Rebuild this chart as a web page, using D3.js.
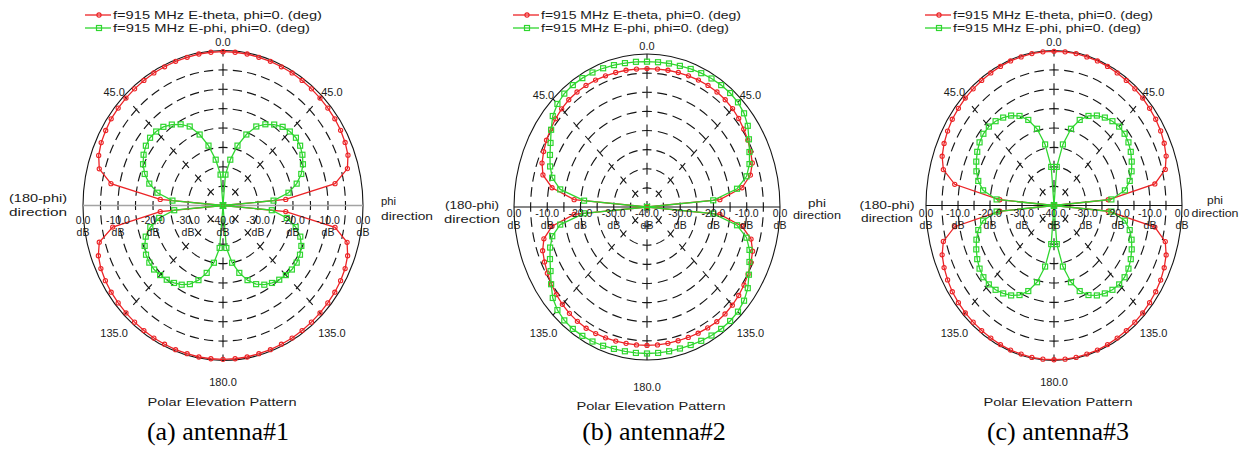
<!DOCTYPE html>
<html>
<head>
<meta charset="utf-8">
<script src="https://cdn.jsdelivr.net/npm/d3@7"></script>
<style>
  body { margin: 0; background: #fff; }
  svg { display: block; }
  .lbl { font-family: "Liberation Sans", Arial, sans-serif; font-size: 11px; fill: #1a1a1a; }
  .tick { font-family: "Liberation Sans", Arial, sans-serif; font-size: 10.5px; fill: #1a1a1a; }
  .cap { font-family: "Liberation Serif", "Times New Roman", serif; font-size: 26px; fill: #000; }
</style>
</head>
<body>
<svg width="1250" height="450"></svg>
<script>
// sampling angles (deg, clockwise from the top: right half = phi direction)
const angles = d3.range(0, 360, 5);

const ringLevels = [-35, -30, -25, -20, -15, -10, -5];
const tickLevels = [0, -10, -20, -30, -40];
const tickLabels = ["0.0", "-10.0", "-20.0", "-30.0", "-40.0"];
const spokeAngles = [45, 135, 225, 315];
const angleLevels = [0, 45, 135, 180, 225, 315];
const angleLabels = ["0.0", "45.0", "135.0", "180.0", "135.0", "45.0"];
const legendNames = ["f=915 MHz E-theta, phi=0. (deg)", "f=915 MHz E-phi, phi=0. (deg)"];
const leftNames = ["(180-phi)", "direction"];
const rightNames = ["phi", "direction"];
const captions = ["(a) antenna#1", "(b) antenna#2", "(c) antenna#3"];

// gain in dB, one value per angle
const theta1 = [-0.3,-0.3,-0.3,-0.4,-0.4,-0.5,-0.5,-0.6,-0.7,-0.8,-0.9,-1.0,-1.2,-1.5,-2.0,-3.2,-7.5,-22,-45,
  -22,-7.5,-3.3,-2.1,-1.5,-1.2,-1.0,-0.9,-0.8,-0.7,-0.6,-0.5,-0.5,-0.4,-0.4,-0.3,-0.3,
  -0.3,-0.3,-0.3,-0.4,-0.4,-0.5,-0.5,-0.6,-0.7,-0.8,-0.9,-1.0,-1.2,-1.5,-2.1,-3.4,-8,-22,-45,
  -22,-7.5,-3.4,-2.2,-1.6,-1.3,-1.0,-0.9,-0.8,-0.7,-0.6,-0.5,-0.5,-0.4,-0.4,-0.3,-0.3];
const phi1 = [-45,-32,-28,-24,-20.5,-17.5,-15.8,-14.5,-13.5,-13.0,-12.8,-13.1,-13.8,-14.8,-16.2,-18.2,-21,-25.5,-45,
  -26,-21.5,-18.5,-16.5,-15.3,-14.6,-14.3,-14.3,-14.6,-15.0,-15.6,-16.4,-17.6,-19.5,-22,-25,-29,
  -45,-29,-25,-22,-19.5,-17.6,-16.4,-15.6,-15.0,-14.6,-14.3,-14.3,-14.6,-15.3,-16.5,-18.5,-21.5,-26,-45,
  -25.5,-21,-18.2,-16.2,-14.8,-13.8,-13.1,-12.8,-13.0,-13.5,-14.5,-15.8,-17.5,-20.5,-24,-28,-32];

const theta2 = [-3.8,-3.8,-3.7,-3.6,-3.5,-3.4,-3.3,-3.3,-3.4,-3.6,-4.0,-4.5,-5.0,-5.6,-6.3,-7.8,-11,-18,-45,
  -18,-11,-7.6,-6.2,-5.5,-4.9,-4.4,-4.0,-3.7,-3.5,-3.4,-3.5,-3.6,-3.7,-3.8,-3.8,-3.8,
  -3.8,-3.8,-3.8,-3.7,-3.6,-3.5,-3.4,-3.5,-3.7,-4.0,-4.4,-4.9,-5.4,-6.0,-6.6,-7.9,-11,-18,-45,
  -18,-11,-7.6,-6.4,-5.7,-5.1,-4.6,-4.1,-3.7,-3.4,-3.3,-3.3,-3.4,-3.5,-3.6,-3.7,-3.8];
const phi2 = [-2.0,-2.0,-1.9,-1.8,-1.6,-1.4,-1.2,-1.1,-1.1,-1.3,-1.9,-3.0,-4.6,-6.0,-7.2,-9.0,-12.5,-20,-45,
  -20,-12.5,-9.0,-7.2,-6.0,-4.6,-3.0,-1.9,-1.3,-1.1,-1.1,-1.2,-1.4,-1.6,-1.7,-1.7,-1.7,
  -1.7,-1.7,-1.7,-1.6,-1.4,-1.2,-1.1,-1.1,-1.3,-1.9,-3.0,-4.8,-6.5,-7.8,-9.0,-10.5,-13.5,-21,-45,
  -21,-13.5,-10.5,-9.0,-7.8,-6.5,-4.8,-3.0,-1.9,-1.3,-1.1,-1.1,-1.2,-1.4,-1.6,-1.8,-1.9];

const theta3 = [-0.2,-0.2,-0.2,-0.3,-0.3,-0.4,-0.5,-0.6,-0.7,-0.8,-1.0,-1.2,-1.5,-2.0,-2.7,-4.0,-8.0,-23,-45,
  -23,-8.0,-4.0,-2.7,-2.0,-1.5,-1.2,-1.0,-0.8,-0.7,-0.6,-0.5,-0.4,-0.3,-0.3,-0.2,-0.2,
  -0.2,-0.2,-0.2,-0.3,-0.3,-0.4,-0.5,-0.6,-0.7,-0.8,-1.0,-1.2,-1.6,-2.1,-2.8,-4.2,-8.5,-23,-45,
  -23,-8.5,-4.2,-2.8,-2.1,-1.6,-1.2,-1.0,-0.8,-0.7,-0.6,-0.5,-0.4,-0.3,-0.3,-0.2,-0.2];
const phi3 = [-45,-30,-24,-19.5,-16.5,-14.5,-13.2,-12.3,-11.6,-11.2,-11.2,-11.6,-12.3,-13.2,-14.2,-15.5,-17.5,-22,-45,
  -22,-17.5,-15.5,-14.2,-13.2,-12.3,-11.6,-11.2,-11.2,-11.6,-12.3,-13.2,-14.5,-16.5,-19.5,-24,-30,
  -45,-30,-24,-19.5,-16.5,-14.5,-13.2,-12.3,-11.6,-11.2,-11.2,-11.6,-12.3,-13.2,-14.2,-15.5,-17.5,-22,-45,
  -22,-17.5,-15.5,-14.2,-13.2,-12.3,-11.6,-11.2,-11.2,-11.6,-12.3,-13.2,-14.5,-16.5,-19.5,-24,-30];

const RED = "#ec2326", GREEN = "#2fd62f";

// layout of the three plots
const panels = [
  { theta: theta1, phi: phi1, cx: 223, cy: 205.5, rx: 140, ry: 155, axis: "#a3a3a3", axisW: 1.5,
    tickY: 224, dbY: 236,
    left: { x: 38, a: "middle", y: [202, 216], w: [58, 58] },
    right: { x: 381, a: "start", y: [205, 220], w: [15, 52] },
    legX: 85, legW: [209, 197], botY: 386, pepY: 406, pepX: 222, capX: 218 },
  { theta: theta2, phi: phi2, cx: 647, cy: 207, rx: 133, ry: 153, axis: "#111", axisW: 1.2,
    tickY: 217, dbY: 229,
    left: { x: 472, a: "middle", y: [209, 223], w: [54, 56] },
    right: { x: 817, a: "middle", y: [207, 219], w: [18, 48] },
    legX: 513, legW: [200, 188], botY: 391, pepY: 410, pepX: 651, capX: 654 },
  { theta: theta3, phi: phi3, cx: 1054, cy: 205.5, rx: 128, ry: 155, axis: "#111", axisW: 1.2,
    tickY: 217, dbY: 229,
    left: { x: 887, a: "middle", y: [209, 222], w: [55, 52] },
    right: { x: 1215, a: "middle", y: [204, 217], w: [16, 47] },
    legX: 925, legW: [200, 188], botY: 386, pepY: 406, pepX: 1058, capX: 1058 }
];

const svg = d3.select("svg");
const r = d3.scaleLinear().domain([-40, 0]).range([0, 1]).clamp(true);
const rad = d => d * Math.PI / 180;

function drawMarkers(g, pts, kind, color) {
  if (kind === "circle") {
    g.selectAll(null).data(pts).enter().append("circle")
      .attr("cx", d => d[0]).attr("cy", d => d[1]).attr("r", 2.1)
      .attr("fill", "none").attr("stroke", color).attr("stroke-width", 1.1);
  } else {
    g.selectAll(null).data(pts).enter().append("rect")
      .attr("x", d => d[0] - 2.5).attr("y", d => d[1] - 2.5)
      .attr("width", 5).attr("height", 5)
      .attr("fill", "none").attr("stroke", color).attr("stroke-width", 1.2);
  }
}

panels.forEach((p, i) => {
  const g = svg.append("g");
  const X = (db, a) => p.cx + p.rx * r(db) * Math.sin(rad(a));
  const Y = (db, a) => p.cy - p.ry * r(db) * Math.cos(rad(a));

  // dashed rings, a dash centred on each axis crossing
  ringLevels.forEach(lv => {
    const e = g.append("ellipse")
      .attr("cx", p.cx).attr("cy", p.cy)
      .attr("rx", p.rx * r(lv)).attr("ry", p.ry * r(lv))
      .attr("fill", "none").attr("stroke", "#151515").attr("stroke-width", 1.15);
    const L = e.node().getTotalLength();
    const n = Math.max(8, Math.round(L / 15 / 4) * 4);
    const per = L / n, dash = per * 0.64;
    e.attr("stroke-dasharray", dash + "," + (per - dash)).attr("stroke-dashoffset", dash / 2);
  });
  // outer ring
  g.append("ellipse").attr("cx", p.cx).attr("cy", p.cy).attr("rx", p.rx).attr("ry", p.ry)
    .attr("fill", "none").attr("stroke", "#151515").attr("stroke-width", 1.1);

  // dashed spokes
  const spoke = (a, frac) => {
    const x2 = X(0, a), y2 = Y(0, a);
    const L = Math.hypot(x2 - p.cx, y2 - p.cy);
    const step = L / 8, dash = step * frac;
    g.append("line").attr("x1", p.cx).attr("y1", p.cy).attr("x2", x2).attr("y2", y2)
      .attr("stroke", "#151515").attr("stroke-width", 1.1)
      .attr("stroke-dasharray", dash + "," + (step - dash)).attr("stroke-dashoffset", dash / 2);
  };
  spokeAngles.forEach(a => spoke(a, 0.5));
  spoke(0, 0.62); spoke(180, 0.62);

  // horizontal axis
  g.append("line").attr("x1", X(0, 270)).attr("y1", p.cy).attr("x2", X(0, 90)).attr("y2", p.cy)
    .attr("stroke", p.axis).attr("stroke-width", p.axisW);

  // traces
  const series = [
    { vals: p.theta, color: RED, kind: "circle" },
    { vals: p.phi, color: GREEN, kind: "square" }
  ];
  const line = d3.line().x(d => X(d.v, d.a)).y(d => Y(d.v, d.a)).curve(d3.curveLinearClosed);
  series.forEach(s => {
    const data = angles.map((a, k) => ({ a: a, v: s.vals[k] }));
    g.append("path").datum(data).attr("d", line)
      .attr("fill", "none").attr("stroke", s.color).attr("stroke-width", 1.3);
    drawMarkers(g, data.map(d => [X(d.v, d.a), Y(d.v, d.a)]), s.kind, s.color);
  });

  // angle labels
  angleLevels.forEach((a, k) => {
    g.append("text").attr("class", "lbl").attr("text-anchor", "middle")
      .attr("x", p.cx + p.rx * 1.1 * Math.sin(rad(a)))
      .attr("y", a === 180 ? p.botY : p.cy - p.ry * 1.1 * Math.cos(rad(a)) + 11)
      .text(angleLabels[k]);
  });

  // radial tick labels along the horizontal axis
  tickLevels.forEach((lv, k) => {
    const xs = lv === -40 ? [X(lv, 90)] : [X(lv, 270), X(lv, 90)];
    xs.forEach(x => {
      g.append("text").attr("class", "tick").attr("text-anchor", "middle")
        .attr("x", x).attr("y", p.tickY).text(tickLabels[k]);
      g.append("text").attr("class", "tick").attr("text-anchor", "middle")
        .attr("x", x).attr("y", p.dbY).text("dB");
    });
  });

  // direction labels
  leftNames.forEach((t, k) => {
    g.append("text").attr("class", "lbl").attr("text-anchor", p.left.a)
      .attr("x", p.left.x).attr("y", p.left.y[k])
      .attr("textLength", p.left.w[k]).attr("lengthAdjust", "spacingAndGlyphs").text(t);
  });
  rightNames.forEach((t, k) => {
    g.append("text").attr("class", "lbl").attr("text-anchor", p.right.a)
      .attr("x", p.right.x).attr("y", p.right.y[k])
      .attr("textLength", p.right.w[k]).attr("lengthAdjust", "spacingAndGlyphs").text(t);
  });

  // legend
  series.forEach((s, k) => {
    const y = 15 + 13 * k;
    g.append("line").attr("x1", p.legX).attr("x2", p.legX + 26).attr("y1", y).attr("y2", y)
      .attr("stroke", s.color).attr("stroke-width", 1.3);
    drawMarkers(g, [[p.legX + 14, y]], s.kind, s.color);
    g.append("text").attr("class", "lbl").attr("x", p.legX + 28).attr("y", y + 4)
      .attr("textLength", p.legW[k]).attr("lengthAdjust", "spacingAndGlyphs")
      .text(legendNames[k]);
  });

  g.append("text").attr("class", "lbl").attr("text-anchor", "middle")
    .attr("x", p.pepX).attr("y", p.pepY)
    .attr("textLength", 149).attr("lengthAdjust", "spacingAndGlyphs")
    .style("font-size", "10.5px")
    .text("Polar Elevation Pattern");

  svg.append("text").attr("class", "cap").attr("text-anchor", "middle")
    .attr("x", p.capX).attr("y", 440).text(captions[i]);
});
</script>
</body>
</html>
